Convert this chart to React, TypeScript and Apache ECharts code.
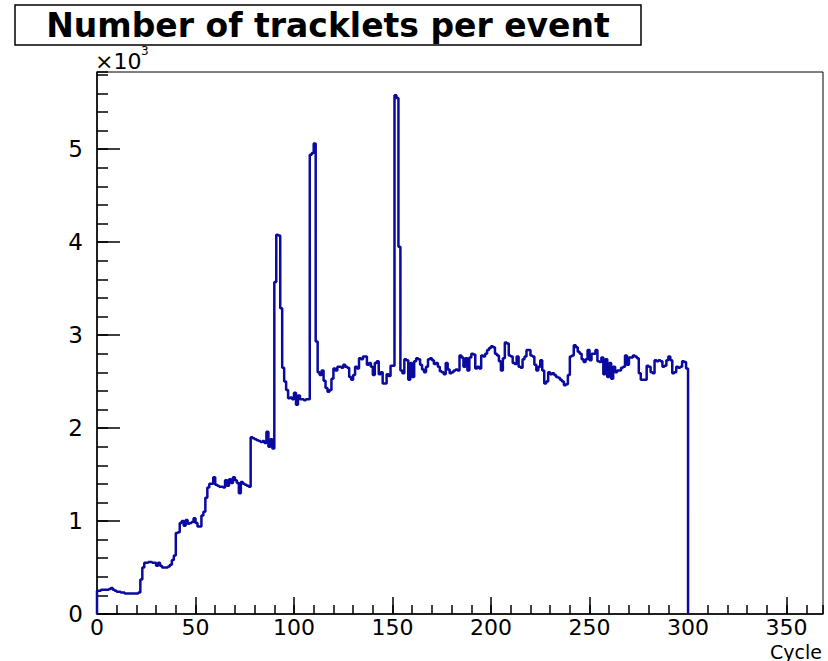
import React, { useEffect, useRef } from "react";
import * as echarts from "echarts";

const TITLE = "Number of tracklets per event";
const X_NAME = "Cycle";
const Y_EXP = "×10";
const Y_EXP_POW = "3";

const X_MIN = 0;
const X_MAX = 368.5;
const X_MAJOR = 50;
const X_MINOR = 10;
const Y_MIN = 0;
const Y_MAX = 5.83;
const Y_MAJOR = 1;
const Y_MINOR = 0.2;

const BIN_START = 0;
const BIN_WIDTH = 1;

// tracklets per event (in units of 10^3), one value per cycle bin
const tracklets = [
  0.25, 0.25, 0.26, 0.26, 0.26, 0.26, 0.27, 0.28, 0.26, 0.25,
  0.24, 0.24, 0.23, 0.23, 0.22, 0.22, 0.22, 0.22, 0.22, 0.22,
  0.22, 0.23, 0.37, 0.50, 0.55, 0.55, 0.56, 0.56, 0.55, 0.55,
  0.52, 0.55, 0.52, 0.50, 0.50, 0.50, 0.51, 0.53, 0.58, 0.63,
  0.87, 0.88, 0.98, 1.00, 0.95, 1.01, 0.97, 0.98, 0.99, 1.03,
  0.98, 0.94, 0.94, 1.06, 1.10, 1.25, 1.36, 1.40, 1.40, 1.47,
  1.39, 1.38, 1.37, 1.37, 1.36, 1.44, 1.38, 1.45, 1.41, 1.47,
  1.44, 1.41, 1.30, 1.42, 1.40, 1.39, 1.38, 1.37, 1.90, 1.89,
  1.88, 1.87, 1.86, 1.85, 1.86, 1.84, 1.96, 1.80, 1.88, 1.78,
  3.57, 4.08, 4.07, 3.29, 2.65, 2.50, 2.41, 2.32, 2.33, 2.31,
  2.38, 2.25, 2.35, 2.31, 2.31, 2.30, 2.31, 2.31, 4.94, 4.96,
  5.06, 2.93, 2.60, 2.57, 2.62, 2.51, 2.43, 2.39, 2.41, 2.53,
  2.64, 2.62, 2.66, 2.66, 2.65, 2.68, 2.66, 2.65, 2.55, 2.52,
  2.57, 2.66, 2.64, 2.75, 2.74, 2.77, 2.77, 2.68, 2.70, 2.66,
  2.57, 2.70, 2.72, 2.58, 2.60, 2.48, 2.48, 2.58, 2.56, 2.67,
  2.67, 5.58, 5.55, 3.95, 2.62, 2.59, 2.74, 2.73, 2.52, 2.70,
  2.55, 2.72, 2.75, 2.74, 2.68, 2.63, 2.60, 2.66, 2.74, 2.75,
  2.73, 2.69, 2.70, 2.66, 2.61, 2.60, 2.58, 2.70, 2.63, 2.59,
  2.60, 2.62, 2.63, 2.62, 2.78, 2.76, 2.66, 2.75, 2.62, 2.76,
  2.80, 2.79, 2.64, 2.66, 2.64, 2.78, 2.77, 2.80, 2.84, 2.86,
  2.88, 2.87, 2.80, 2.78, 2.72, 2.62, 2.75, 2.92, 2.91, 2.78,
  2.77, 2.70, 2.69, 2.77, 2.66, 2.65, 2.74, 2.77, 2.84, 2.84,
  2.78, 2.77, 2.68, 2.62, 2.66, 2.73, 2.62, 2.48, 2.50, 2.60,
  2.58, 2.59, 2.57, 2.55, 2.54, 2.52, 2.50, 2.46, 2.47, 2.57,
  2.77, 2.78, 2.89, 2.87, 2.82, 2.80, 2.74, 2.71, 2.74, 2.84,
  2.73, 2.80, 2.80, 2.84, 2.72, 2.71, 2.76, 2.58, 2.74, 2.55,
  2.70, 2.53, 2.66, 2.60, 2.62, 2.62, 2.65, 2.66, 2.78, 2.68,
  2.76, 2.76, 2.78, 2.77, 2.75, 2.59, 2.52, 2.52, 2.52, 2.67,
  2.66, 2.60, 2.59, 2.73, 2.72, 2.73, 2.72, 2.66, 2.67, 2.73,
  2.77, 2.73, 2.59, 2.60, 2.66, 2.65, 2.66, 2.72, 2.71, 2.64,
];

const LINE_COLOR = "#0a0aa0";
const LABEL_FONT = "DejaVu Sans";

export default function App() {
  const ref = useRef<HTMLDivElement>(null);

  useEffect(() => {
    if (!ref.current) return;
    const chart = echarts.init(ref.current, null, { renderer: "svg" });

    const lastEdge = BIN_START + tracklets.length * BIN_WIDTH;
    const points: [number, number][] = [[BIN_START, 0]];
    tracklets.forEach((v, i) => points.push([BIN_START + i * BIN_WIDTH, v]));
    points.push([lastEdge, 0]);

    chart.setOption({
      animation: false,
      backgroundColor: "#fff",
      grid: {
        left: 97,
        right: 5,
        top: 72,
        bottom: 47,
        show: true,
        borderColor: "#000",
        borderWidth: 1,
        backgroundColor: "transparent",
      },
      xAxis: [
        {
          type: "value",
          min: X_MIN,
          max: X_MAX,
          interval: X_MAJOR,
          axisLine: { show: true, onZero: false, lineStyle: { color: "#000", width: 1.5 } },
          axisTick: { show: true, inside: true, length: 17, lineStyle: { color: "#000", width: 1.5 } },
          axisLabel: { fontFamily: LABEL_FONT, fontSize: 22, color: "#000", margin: 2, showMaxLabel: false },
          splitLine: { show: false },
        },
        {
          type: "value",
          min: X_MIN,
          max: X_MAX,
          interval: X_MINOR,
          position: "bottom",
          axisLine: { show: false },
          axisTick: { show: true, inside: true, length: 9, lineStyle: { color: "#000", width: 1.5 } },
          axisLabel: { show: false },
          splitLine: { show: false },
        },
      ],
      yAxis: [
        {
          type: "value",
          min: Y_MIN,
          max: Y_MAX,
          interval: Y_MAJOR,
          axisLine: { show: true, onZero: false, lineStyle: { color: "#000", width: 1.5 } },
          axisTick: { show: true, inside: true, length: 23, lineStyle: { color: "#000", width: 1.5 } },
          axisLabel: { fontFamily: LABEL_FONT, fontSize: 23, color: "#000", margin: 14, showMaxLabel: false },
          splitLine: { show: false },
        },
        {
          type: "value",
          min: Y_MIN,
          max: Y_MAX,
          interval: Y_MINOR,
          position: "left",
          axisLine: { show: false },
          axisTick: { show: true, inside: true, length: 11, lineStyle: { color: "#000", width: 1.5 } },
          axisLabel: { show: false },
          splitLine: { show: false },
        },
      ],
      series: [
        {
          type: "line",
          xAxisIndex: 0,
          yAxisIndex: 0,
          step: "end",
          data: points,
          showSymbol: false,
          symbol: "none",
          lineStyle: { color: LINE_COLOR, width: 2.5 },
          z: 5,
        },
      ],
      graphic: [
        {
          type: "rect",
          shape: { x: 15, y: 5, width: 626, height: 40 },
          style: { fill: "#fff", stroke: "#000", lineWidth: 1.5 },
        },
        {
          type: "text",
          x: 328,
          y: 25,
          style: {
            text: TITLE,
            fontFamily: "DejaVu Sans",
            fontWeight: "bold",
            fontSize: 33,
            fill: "#000",
            align: "center",
            verticalAlign: "middle",
          },
        },
        {
          type: "text",
          x: 95,
          y: 50,
          style: {
            text: Y_EXP,
            fontFamily: LABEL_FONT,
            fontSize: 22,
            fill: "#000",
            align: "left",
            verticalAlign: "top",
          },
        },
        {
          type: "text",
          x: 141,
          y: 45,
          style: {
            text: Y_EXP_POW,
            fontFamily: LABEL_FONT,
            fontSize: 12,
            fill: "#000",
            align: "left",
            verticalAlign: "top",
          },
        },
        {
          type: "text",
          x: 822,
          y: 661,
          style: {
            text: X_NAME,
            fontFamily: LABEL_FONT,
            fontSize: 19,
            fill: "#000",
            align: "right",
            verticalAlign: "bottom",
          },
        },
      ],
    });

    return () => chart.dispose();
  }, []);

  return (
    <div
      ref={ref}
      style={{ position: "fixed", left: 0, top: 0, width: 828, height: 661, background: "#fff" }}
    />
  );
}
